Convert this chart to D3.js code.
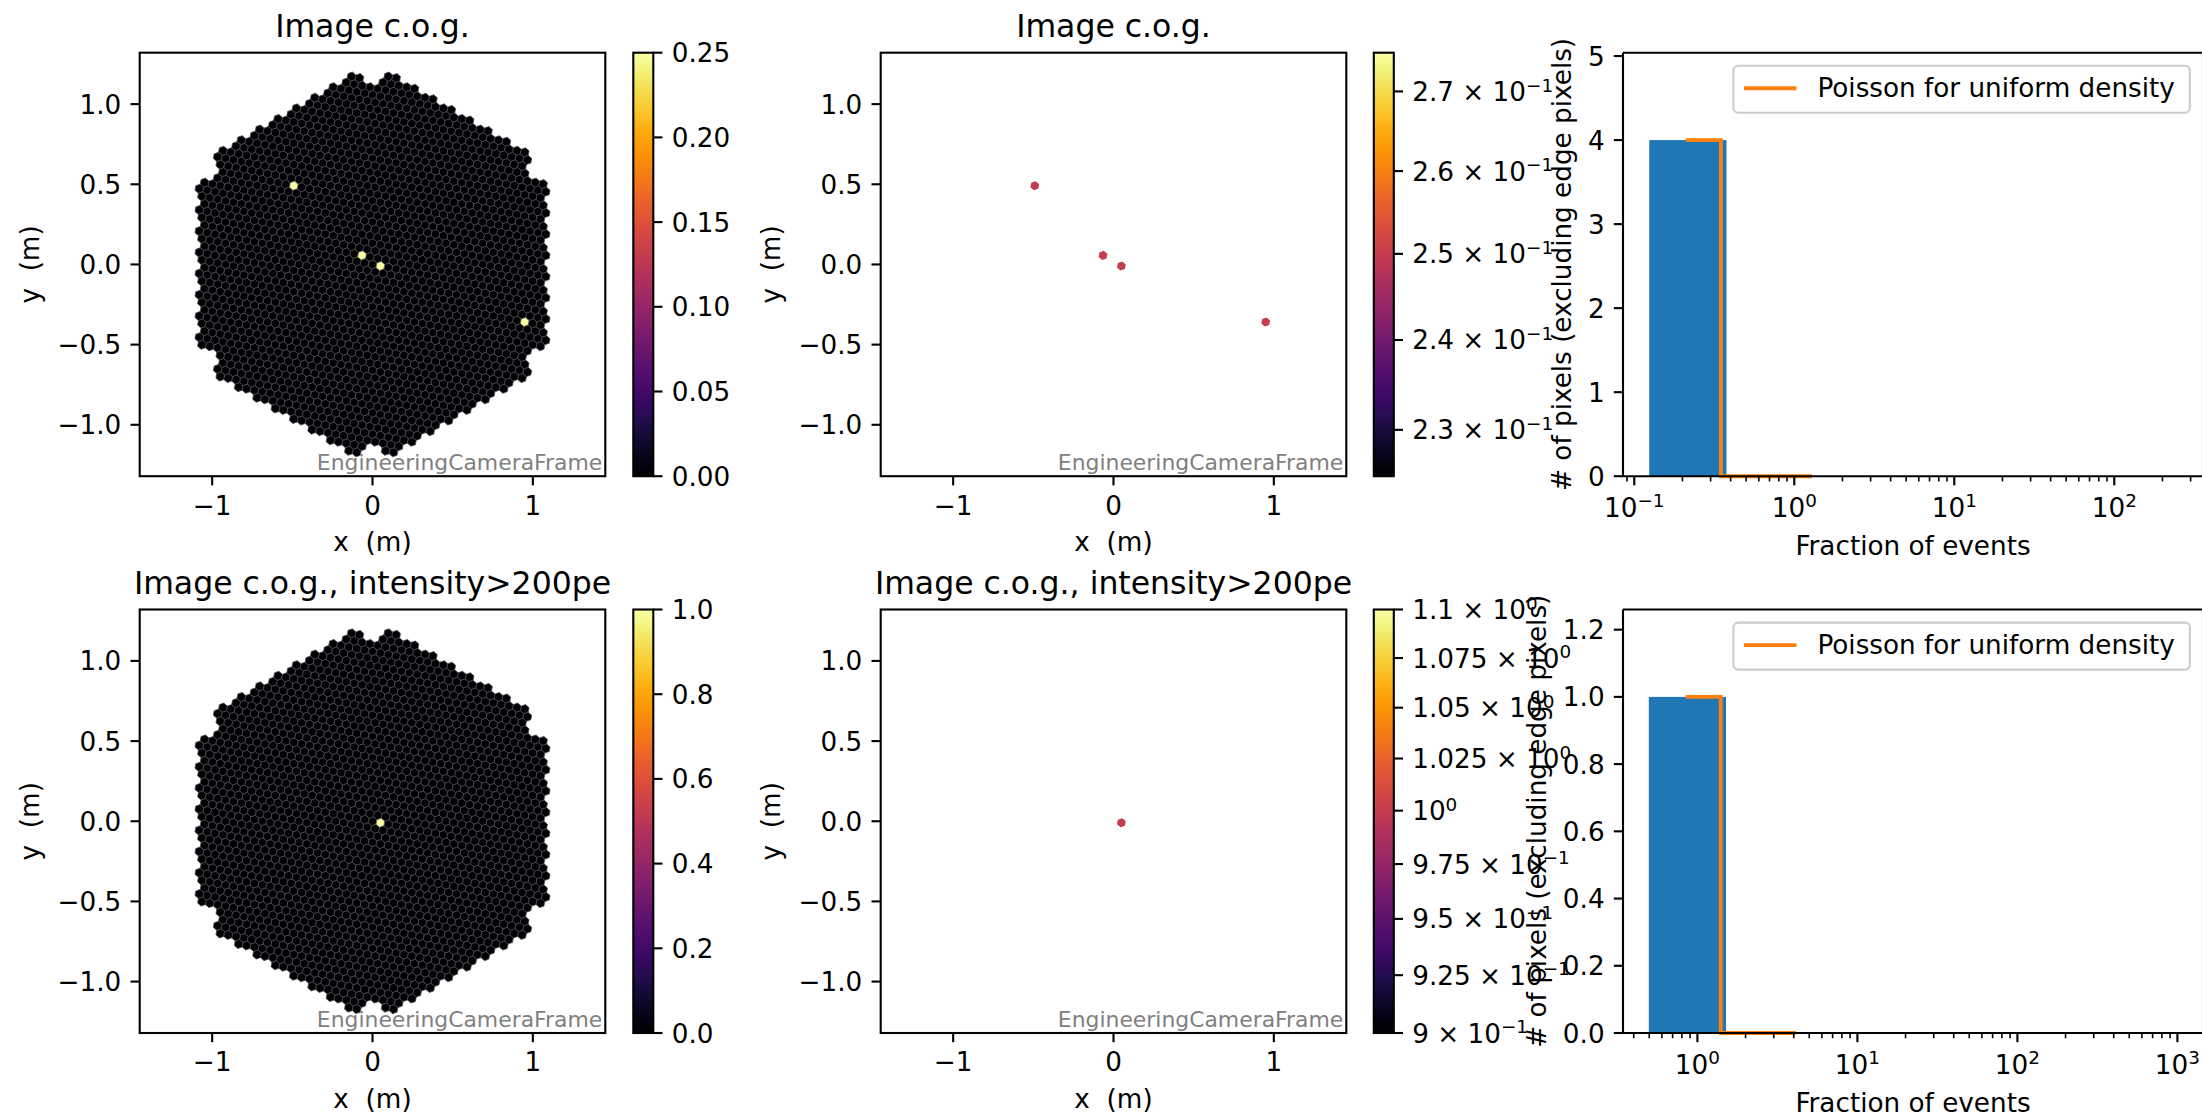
<!DOCTYPE html>
<html><head><meta charset="utf-8">
<script src="https://cdn.jsdelivr.net/npm/d3@7/dist/d3.min.js"></script>
<style>
html,body{margin:0;padding:0;background:#fff;}
svg text{font-family:"DejaVu Sans",sans-serif;fill:#000;white-space:pre;}
</style></head><body>
<svg id="fig" width="2202" height="1118" xmlns="http://www.w3.org/2000/svg"></svg>
<script>
// ---------------- data ----------------
const cogAllX = [-0.488, -0.064, 0.048, 0.951];
const cogAllY = [0.491, 0.057, -0.008, -0.356];
const cogAllFrac = [0.25, 0.25, 0.25, 0.25];
const cogHiX = [0.048];
const cogHiY = [-0.008];
const cogHiFrac = [1.0];

const histAllEdges = [0.124, 0.377];
const histAllCounts = [4];
const poissonAllX = [0.21, 0.348, 0.348, 1.29];
const poissonAllY = [4, 4, 0, 0];
const histHiEdges = [0.497, 1.51];
const histHiCounts = [1];
const poissonHiX = [0.845, 1.40, 1.40, 4.12];
const poissonHiY = [1, 1, 0, 0];

const camTicksX = [-1, 0, 1];
const camTicksY = [-1.0, -0.5, 0.0, 0.5, 1.0];
const cbarAllDomain = [0, 0.25];
const cbarAllTicks = [0, 0.05, 0.10, 0.15, 0.20, 0.25];
const cbarHiDomain = [0, 1];
const cbarHiTicks = [0, 0.2, 0.4, 0.6, 0.8, 1.0];
const logCbarAllDomain = [0.225, 0.275];
const logCbarAllTicks = [0.23, 0.24, 0.25, 0.26, 0.27];
const logCbarAllLabels = [["2.3 × 10","−1"],["2.4 × 10","−1"],["2.5 × 10","−1"],["2.6 × 10","−1"],["2.7 × 10","−1"]];
const logCbarHiDomain = [0.9, 1.1];
const logCbarHiTicks = [0.9, 0.925, 0.95, 0.975, 1.0, 1.025, 1.05, 1.075, 1.1];
const logCbarHiLabels = [["9 × 10","−1"],["9.25 × 10","−1"],["9.5 × 10","−1"],["9.75 × 10","−1"],["10","0"],["1.025 × 10","0"],["1.05 × 10","0"],["1.075 × 10","0"],["1.1 × 10","0"]];
const histAllYDomain = [0, 5.04];
const histAllYTicks = [0, 1, 2, 3, 4, 5];
const histHiYDomain = [0, 1.26];
const histHiYTicks = [0, 0.2, 0.4, 0.6, 0.8, 1.0, 1.2];
const histAllXDecades = [-1, 0, 1, 2];
const histHiXDecades = [0, 1, 2, 3];
const titles = ["Image c.o.g.", "Image c.o.g., intensity>200pe"];
const frameName = "EngineeringCameraFrame";
const legendLabel = "Poisson for uniform density";
const histXLabel = "Fraction of events";
const histYLabel = "# of pixels (excluding edge pixels)";

// ---------------- style / layout ----------------
const FS = 26.25, FS_T = 31.5, FS_S = 21.9;
const SPINE = 2.1, TICK = 9.2, TICKW = 2.1, MTICK = 5.25, MTICKW = 1.6, PAD = 9.2;
const rows = [{top: 52.7, bottom: 476.2}, {top: 609.5, bottom: 1033}];
const camCols = [{x0: 139.7, x1: 605.3, cb0: 633.3, cb1: 653.3}, {x0: 880.7, x1: 1346.3, cb0: 1373.8, cb1: 1393.8}];
const HALFX = 1.452;
const histX0 = 1623, histX1 = 2203, PX_PER_DEC = 160;
const histLeftLog = [-1.0706, -0.465];
const BLUE = "#1f77b4", ORANGE = "#ff7f0e";

const svg = d3.select("#fig");
const defs = svg.append("defs");
const fmt = v => String(v).replace("-", "\u2212");

// ---------------- camera geometry (LST-like, 265 modules x 7 pixels) ----------------
const PITCH = 0.05;
const phi = 49.107 * Math.PI / 180;
const a1 = [PITCH * Math.cos(phi), PITCH * Math.sin(phi)];
const a2 = [PITCH * Math.cos(phi + Math.PI / 3), PITCH * Math.sin(phi + Math.PI / 3)];
const M1 = [a1[0] + 2 * a2[0], a1[1] + 2 * a2[1]];
const M2 = [M1[0] * 0.5 - M1[1] * Math.sqrt(3) / 2, M1[0] * Math.sqrt(3) / 2 + M1[1] * 0.5];
const offsets = [[0, 0], a1, a2, [a2[0] - a1[0], a2[1] - a1[1]], [-a1[0], -a1[1]], [-a2[0], -a2[1]], [a1[0] - a2[0], a1[1] - a2[1]]];
const pixels = [];
for (let q = -9; q <= 9; q++) for (let r = -9; r <= 9; r++) {
  const dist = Math.max(Math.abs(q), Math.abs(r), Math.abs(q + r));
  if (dist > 9) continue;
  if (dist === 9 && (q === 0 || r === 0 || q + r === 0)) continue;
  const cx = q * M1[0] + r * M2[0], cy = q * M1[1] + r * M2[1];
  offsets.forEach(o => pixels.push({x: cx + o[0], y: cy + o[1]}));
}
const HEXR = PITCH / Math.sqrt(3);
const hexAng = d3.range(6).map(k => phi - Math.PI / 6 + k * Math.PI / 3);

function nearestPixel(x, y) {
  let best = 0, bd = Infinity;
  pixels.forEach((p, i) => { const d = (p.x - x) ** 2 + (p.y - y) ** 2; if (d < bd) { bd = d; best = i; } });
  return best;
}
function pixelValues(xs, ys, fr) {
  const v = new Array(pixels.length).fill(0);
  xs.forEach((x, i) => { v[nearestPixel(x, ys[i])] += fr[i]; });
  return v;
}

// ---------------- helpers ----------------
let clipN = 0;
function clipRect(x0, y0, x1, y1) {
  const id = "clip" + (clipN++);
  defs.append("clipPath").attr("id", id).append("rect").attr("x", x0).attr("y", y0).attr("width", x1 - x0).attr("height", y1 - y0);
  return "url(#" + id + ")";
}
function frame(g, x0, y0, x1, y1) {
  g.append("rect").attr("x", x0).attr("y", y0).attr("width", x1 - x0).attr("height", y1 - y0)
    .attr("fill", "none").attr("stroke", "#000").attr("stroke-width", SPINE);
}
function supText(g, x, y, base, sup, anchor) {
  const t = g.append("text").attr("x", x).attr("y", y).attr("font-size", FS).attr("text-anchor", anchor);
  t.append("tspan").text(base);
  t.append("tspan").attr("font-size", FS * 0.7).attr("dy", -9.4).text(sup);
  return t;
}
let gradN = 0;
function infernoGradient() {
  const id = "grad" + (gradN++);
  const lg = defs.append("linearGradient").attr("id", id).attr("x1", 0).attr("y1", 1).attr("x2", 0).attr("y2", 0);
  d3.range(0, 1.0001, 0.02).forEach(t => lg.append("stop").attr("offset", t).attr("stop-color", d3.interpolateInferno(t)));
  return "url(#" + id + ")";
}

// ---------------- camera panels ----------------
function cameraPanel(col, row, values, mode, cbDomain, cbTicks, cbLabels) {
  const c = camCols[col], r = rows[row];
  const ppm = (c.x1 - c.x0) / (2 * HALFX);
  const halfY = (r.bottom - r.top) / 2 / ppm;
  const xs = d3.scaleLinear().domain([-HALFX, HALFX]).range([c.x0, c.x1]);
  const ys = d3.scaleLinear().domain([-halfY, halfY]).range([r.bottom, r.top]);
  const g = svg.append("g");
  const gp = g.append("g").attr("clip-path", clipRect(c.x0, r.top, c.x1, r.bottom));
  const norm = mode === "log"
    ? d3.scaleLog().domain(cbDomain).range([0, 1])
    : d3.scaleLinear().domain(cbDomain).range([0, 1]);
  const hexPath = p => "M" + hexAng.map(a => [xs(p.x + HEXR * Math.cos(a)), ys(p.y + HEXR * Math.sin(a))].join(",")).join("L") + "Z";
  let data = pixels.map((p, i) => ({p, v: values[i]}));
  if (mode === "log") data = data.filter(d => d.v > 0);
  data.sort((a, b) => a.v - b.v);
  gp.selectAll("path.pix").data(data).join("path").attr("class", "pix")
    .attr("d", d => hexPath(d.p))
    .attr("fill", d => d3.interpolateInferno(Math.max(0, Math.min(1, norm(d.v)))))
    .attr("stroke", mode === "log" ? "none" : "#4a4a4a")
    .attr("stroke-width", 0.8);
  // frame name
  g.append("text").attr("x", c.x1 - 3).attr("y", r.bottom - 6).attr("text-anchor", "end")
    .attr("font-size", FS_S).style("fill", "#808080").text(frameName);
  frame(g, c.x0, r.top, c.x1, r.bottom);
  // x ticks
  camTicksX.forEach(v => {
    g.append("line").attr("x1", xs(v)).attr("x2", xs(v)).attr("y1", r.bottom).attr("y2", r.bottom + TICK).attr("stroke", "#000").attr("stroke-width", TICKW);
    g.append("text").attr("x", xs(v)).attr("y", r.bottom + TICK + PAD + 20).attr("text-anchor", "middle").attr("font-size", FS).text(fmt(v));
  });
  camTicksY.forEach(v => {
    g.append("line").attr("x1", c.x0 - TICK).attr("x2", c.x0).attr("y1", ys(v)).attr("y2", ys(v)).attr("stroke", "#000").attr("stroke-width", TICKW);
    g.append("text").attr("x", c.x0 - TICK - PAD).attr("y", ys(v) + 9.5).attr("text-anchor", "end").attr("font-size", FS).text(fmt(v.toFixed(1)));
  });
  g.append("text").attr("x", (c.x0 + c.x1) / 2).attr("y", r.bottom + 75).attr("text-anchor", "middle").attr("font-size", FS).text("x  (m)");
  g.append("text").attr("transform", `translate(${c.x0 - 100.5},${(r.top + r.bottom) / 2}) rotate(-90)`).attr("text-anchor", "middle").attr("font-size", FS).text("y  (m)");
  g.append("text").attr("x", (c.x0 + c.x1) / 2).attr("y", r.top - 15.75).attr("text-anchor", "middle").attr("font-size", FS_T).text(titles[row]);
  // colorbar
  const cs = (mode === "log" ? d3.scaleLog() : d3.scaleLinear()).domain(cbDomain).range([r.bottom, r.top]);
  g.append("rect").attr("x", c.cb0).attr("y", r.top).attr("width", c.cb1 - c.cb0).attr("height", r.bottom - r.top).attr("fill", infernoGradient());
  frame(g, c.cb0, r.top, c.cb1, r.bottom);
  cbTicks.forEach((v, i) => {
    g.append("line").attr("x1", c.cb1).attr("x2", c.cb1 + TICK).attr("y1", cs(v)).attr("y2", cs(v)).attr("stroke", "#000").attr("stroke-width", TICKW);
    if (mode === "log") {
      supText(g, c.cb1 + TICK + PAD, cs(v) + 9.5, cbLabels[i][0], cbLabels[i][1], "start");
    } else {
      g.append("text").attr("x", c.cb1 + TICK + PAD).attr("y", cs(v) + 9.5).attr("font-size", FS).text(cbLabels[i]);
    }
  });
}

const valsAll = pixelValues(cogAllX, cogAllY, cogAllFrac);
const valsHi = pixelValues(cogHiX, cogHiY, cogHiFrac);
cameraPanel(0, 0, valsAll, "lin", cbarAllDomain, cbarAllTicks, cbarAllTicks.map(v => v.toFixed(2)));
cameraPanel(0, 1, valsHi, "lin", cbarHiDomain, cbarHiTicks, cbarHiTicks.map(v => v.toFixed(1)));
cameraPanel(1, 0, valsAll, "log", logCbarAllDomain, logCbarAllTicks, logCbarAllLabels);
cameraPanel(1, 1, valsHi, "log", logCbarHiDomain, logCbarHiTicks, logCbarHiLabels);

// ---------------- histogram panels ----------------
function histPanel(row, edges, counts, px, py, yDomain, yTicks, yDigits, decades) {
  const r = rows[row];
  const lo = Math.pow(10, histLeftLog[row]);
  const hi = Math.pow(10, histLeftLog[row] + (histX1 - histX0) / PX_PER_DEC);
  const xs = d3.scaleLog().domain([lo, hi]).range([histX0, histX1]);
  const ys = d3.scaleLinear().domain(yDomain).range([r.bottom, r.top]);
  const g = svg.append("g");
  const gp = g.append("g").attr("clip-path", clipRect(histX0, r.top - 5, histX1 + 5, r.bottom + 5));
  counts.forEach((cnt, i) => {
    gp.append("rect").attr("x", xs(edges[i])).attr("width", xs(edges[i + 1]) - xs(edges[i]))
      .attr("y", ys(cnt)).attr("height", ys(0) - ys(cnt)).attr("fill", BLUE);
  });
  const line = d3.line().x(d => xs(d[0])).y(d => ys(d[1]));
  gp.append("path").attr("d", line(px.map((x, i) => [x, py[i]]))).attr("fill", "none").attr("stroke", ORANGE).attr("stroke-width", 3.9);
  // spines
  g.append("line").attr("x1", histX0).attr("x2", histX1).attr("y1", r.bottom).attr("y2", r.bottom).attr("stroke", "#000").attr("stroke-width", SPINE);
  g.append("line").attr("x1", histX0).attr("x2", histX1).attr("y1", r.top).attr("y2", r.top).attr("stroke", "#000").attr("stroke-width", SPINE);
  g.append("line").attr("x1", histX0).attr("x2", histX0).attr("y1", r.top).attr("y2", r.bottom).attr("stroke", "#000").attr("stroke-width", SPINE);
  g.append("line").attr("x1", histX1).attr("x2", histX1).attr("y1", r.top).attr("y2", r.bottom).attr("stroke", "#000").attr("stroke-width", SPINE);
  // x ticks
  const [L, R] = xs.domain().map(Math.log10);
  for (let k = Math.floor(L); k <= Math.ceil(R); k++) {
    for (let m = 2; m <= 9; m++) {
      const v = m * Math.pow(10, k);
      if (v < lo || v > hi) continue;
      g.append("line").attr("x1", xs(v)).attr("x2", xs(v)).attr("y1", r.bottom).attr("y2", r.bottom + MTICK).attr("stroke", "#000").attr("stroke-width", MTICKW);
    }
  }
  decades.forEach(k => {
    const v = Math.pow(10, k);
    g.append("line").attr("x1", xs(v)).attr("x2", xs(v)).attr("y1", r.bottom).attr("y2", r.bottom + TICK).attr("stroke", "#000").attr("stroke-width", TICKW);
    supText(g, xs(v), r.bottom + 40.5, "10", fmt(k), "middle");
  });
  yTicks.forEach(v => {
    g.append("line").attr("x1", histX0 - TICK).attr("x2", histX0).attr("y1", ys(v)).attr("y2", ys(v)).attr("stroke", "#000").attr("stroke-width", TICKW);
    g.append("text").attr("x", histX0 - TICK - PAD).attr("y", ys(v) + 9.5).attr("text-anchor", "end").attr("font-size", FS).text(v.toFixed(yDigits));
  });
  g.append("text").attr("x", (histX0 + histX1) / 2).attr("y", r.bottom + 79).attr("text-anchor", "middle").attr("font-size", FS).text(histXLabel);
  const labX = histX0 - TICK - PAD - (yDigits ? 41.7 : 16.7) - 10.5 - 6.2;
  g.append("text").attr("transform", `translate(${labX},${(r.top + r.bottom) / 2}) rotate(-90)`).attr("text-anchor", "middle").attr("font-size", FS).text(histYLabel);
  // legend
  const lw = 456.5, lh = 47, lx = histX1 - 13.1 - lw, ly = r.top + 13.1;
  g.append("rect").attr("x", lx).attr("y", ly).attr("width", lw).attr("height", lh).attr("rx", 5)
    .attr("fill", "#fff").attr("fill-opacity", 0.8).attr("stroke", "#cccccc").attr("stroke-width", SPINE);
  g.append("line").attr("x1", lx + 10.5).attr("x2", lx + 63).attr("y1", ly + 22.5).attr("y2", ly + 22.5).attr("stroke", ORANGE).attr("stroke-width", 3.9);
  g.append("text").attr("x", lx + 84).attr("y", ly + 31.5).attr("font-size", FS).text(legendLabel);
}
histPanel(0, histAllEdges, histAllCounts, poissonAllX, poissonAllY, histAllYDomain, histAllYTicks, 0, histAllXDecades);
histPanel(1, histHiEdges, histHiCounts, poissonHiX, poissonHiY, histHiYDomain, histHiYTicks, 1, histHiXDecades);
</script>
</body></html>
